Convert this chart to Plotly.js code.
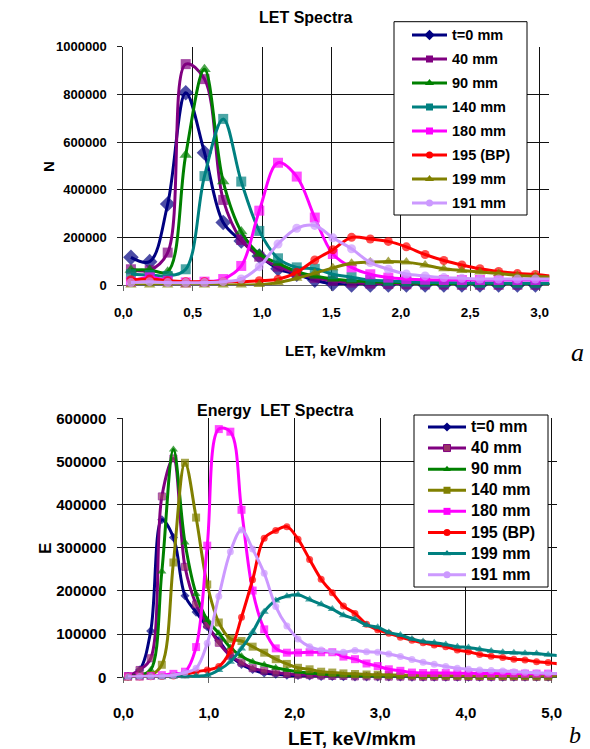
<!DOCTYPE html>
<html><head><meta charset="utf-8">
<script src="https://cdn.plot.ly/plotly-3.0.1.min.js"></script>
<style>html,body{margin:0;padding:0;background:#fff}#chart{width:590px;height:749px}</style>
</head><body><div id="chart"></div>
<script>
// ---------- data ----------
const seriesNames = ['t=0 mm','40 mm','90 mm','140 mm','180 mm','195 (BP)','199 mm','191 mm'];

// Chart a: LET spectra (N)
const xTop = [0.055,0.19,0.32,0.45,0.585,0.72,0.85,0.98,1.115,1.25,1.38,1.51,1.645,1.78,1.91,2.04,2.175,2.31,2.44,2.57,2.705,2.84,2.97,3.10];
const nT0   = [116000,98000,340000,807000,555000,262000,185000,122000,68000,45000,20000,5000,0,0,0,0,0,0,0,0,0,0,0,0];
const nT40  = [66000,62000,136000,927000,864000,357000,189000,119000,77000,50000,30000,18000,10000,6000,4000,3000,2000,2000,1000,1000,1000,1000,1000,1000];
const nT90  = [63000,63000,56000,546000,905000,434000,224000,130000,91000,56000,38000,25000,18000,14000,11000,9000,7000,6000,5000,4000,3000,3000,2000,2000];
const nT140 = [45000,42000,38000,66000,457000,697000,434000,227000,112000,74000,68000,45000,33000,21000,17000,14000,11000,10000,9000,8000,8000,7000,7000,7000];
const nT180 = [14000,32000,18000,11000,14000,25000,80000,312000,513000,455000,283000,130000,74000,45000,31000,25000,22000,21000,21000,21000,21000,21000,21000,21000];
const nT195 = [22000,25000,18000,14000,14000,14000,14000,18000,24000,53000,105000,148000,200000,193000,183000,160000,128000,103000,84000,68000,57000,48000,44000,36000];
const nT199 = [0,0,0,0,0,0,0,2000,10000,28000,50000,72000,91000,96000,99000,96000,84000,68000,61000,55000,48000,40000,36000,33000];
const nT191 = [10000,14000,10000,10000,10000,14000,25000,77000,172000,238000,250000,198000,152000,94000,66000,46000,38000,31000,28000,25000,25000,25000,25000,25000];

// Chart b: Energy LET spectra (E)
const xBot = [0.055,0.19,0.32,0.45,0.585,0.72,0.85,0.98,1.115,1.25,1.38,1.51,1.645,1.78,1.91,2.04,2.175,2.31,2.44,2.57,2.705,2.84,2.97,3.10,3.235,3.37,3.50,3.63,3.765,3.90,4.03,4.16,4.295,4.43,4.56,4.69,4.825,4.96,5.09];
const eT0   = [2000,17000,107000,365000,324000,189000,151000,117000,85000,50000,30000,18000,10000,7000,5000,4000,3000,2000,2000,1500,1000,1000,1000,1000,1000,500,500,500,500,500,500,500,500,500,500,500,500,500,500];
const eT40  = [3000,17000,44000,419000,507000,256000,169000,122000,80000,50000,34000,21000,15000,11000,8000,6000,5000,4000,3000,3000,2000,2000,2000,1500,1500,1500,1000,1000,1000,1000,1000,1000,1000,1000,1000,1000,1000,1000,1000];
const eT90  = [2000,5000,17000,245000,528000,312000,193000,133000,102000,69000,49000,36000,29000,22000,17000,13000,10000,8000,6000,5000,4000,3500,3000,3000,2500,2500,2000,2000,2000,2000,2000,1500,1500,1500,1500,1500,1500,1500,1500];
const eT140 = [1000,2000,5000,29000,266000,497000,370000,215000,127000,89000,84000,71000,57000,42000,31000,22000,18500,13000,11000,9000,7700,6500,6000,5500,5000,4500,4000,4000,3500,3500,3000,3000,3000,2500,2500,2500,2000,2000,2000];
const eT180 = [2000,2000,3000,5000,8000,13000,70000,305000,575000,569000,388000,201000,111000,67000,57000,57000,58000,58000,58000,48000,42000,32000,26000,18500,15000,11000,10000,10000,10000,9500,9500,9000,9000,9000,9000,8500,8500,8500,8500];
const eT195 = [1000,1000,1000,2000,3000,6000,13000,17000,25000,61000,139000,226000,322000,340000,349000,320000,273000,227000,196000,165000,148000,123000,110000,102000,93000,86000,80000,75000,71000,63000,59000,53000,49000,46000,42000,40000,36000,34000,31000];
const eT199 = [0,0,0,0,1000,2000,3000,5000,17000,36000,67000,105000,152000,178000,188000,191000,180000,169000,158000,144000,135000,121000,116000,104000,98000,89000,83000,80000,76000,71000,69000,65000,61000,58000,57000,56000,55000,52000,50000];
const eT191 = [1000,2000,2000,3000,5000,11000,21000,79000,188000,291000,341000,297000,241000,164000,119000,89000,71000,63000,60000,58000,62000,59000,58000,54000,48000,41000,35000,30000,25000,21000,18500,17000,15500,14700,13000,11600,10800,9300,8500];

const yTickTop = [0,200000,400000,600000,800000,1000000];
const yTickBot = [0,100000,200000,300000,400000,500000,600000];

// ---------- styling ----------
const W = 590, H = 749;
const px = v => v / W;
const py = v => 1 - v / H;
const SANS = "'Liberation Sans', Arial, sans-serif";
const SERIF = "'Liberation Serif', 'Times New Roman', serif";

const X_TOP_MAX = 3.07, X_BOT_MAX = 5.06;

const topStyle = [
  {c:'#000080', s:'diamond',     z:12, lz:8},
  {c:'#800080', s:'square',      z:10, lz:7},
  {c:'#008000', s:'triangle-up', z:11, lz:8},
  {c:'#008080', s:'square',      z:10, lz:7},
  {c:'#FF00FF', s:'square',      z:10, lz:7},
  {c:'#FF0000', s:'circle',      z:9,  lz:7},
  {c:'#808000', s:'triangle-up', z:10, lz:8},
  {c:'#CC99FF', s:'circle',      z:9,  lz:7}
];
const botStyle = [
  {c:'#000080', s:'diamond',     z:7, lz:7},
  {c:'#800080', s:'square',      z:7, lz:7, mc:'#993366'},
  {c:'#008000', s:'triangle-up', z:8, lz:7},
  {c:'#808000', s:'square',      z:8, lz:7},
  {c:'#FF00FF', s:'square',      z:8, lz:7},
  {c:'#FF0000', s:'circle',      z:7, lz:7},
  {c:'#008080', s:'triangle-up', z:8, lz:7},
  {c:'#CC99FF', s:'circle',      z:7, lz:7}
];

const topData = [nT0,nT40,nT90,nT140,nT180,nT195,nT199,nT191];
const botData = [eT0,eT40,eT90,eT140,eT180,eT195,eT199,eT191];

const traces = [];
function addSeries(xs, ys, i, st, xa, ya, legendId, grp, xmax, fsz) {
  const sizes = xs.map(v => v > xmax ? 0 : st.z);
  traces.push({
    type:'scatter', mode:'lines+markers', x:xs, y:ys, xaxis:xa, yaxis:ya,
    name:seriesNames[i], legendgroup:grp, showlegend:false, cliponaxis:false,
    line:{color:st.c, width:3, shape:'spline', smoothing:1},
    marker:{symbol:st.s, size:sizes, color:st.mc || st.c,
            line:{width: st.mc ? 1 : 0, color:st.c}},
    hoverinfo:'skip'
  });
  // legend entry (no data of its own)
  traces.push({
    type:'scatter', mode:'lines+markers', x:[null], y:[null], xaxis:xa, yaxis:ya,
    name:'<span style="font-size:'+fsz+'px">'+seriesNames[i]+'</span>',
    legend:legendId, legendgroup:grp, showlegend:true,
    line:{color:st.c, width:3},
    marker:{symbol:st.s, size:st.lz, color:st.mc || st.c, line:{width: st.mc ? 1 : 0, color:st.c}}
  });
}
topData.forEach((ys,i) => addSeries(xTop, ys, i, topStyle[i], 'x', 'y', 'legend', 'a'+i, X_TOP_MAX, 14.5));
botData.forEach((ys,i) => addSeries(xBot, ys, i, botStyle[i], 'x2', 'y2', 'legend2', 'b'+i, X_BOT_MAX, 16));

function xAxis(dom, range, dtick, anchor, fsz, standoff) {
  return {domain:dom, range:range, anchor:anchor, tick0:0, dtick:dtick, tickformat:'.1f',
    showgrid:true, gridcolor:'#111', gridwidth:1, zeroline:false,
    showline:true, linecolor:'#666', linewidth:1, ticks:'outside', ticklen:5, tickcolor:'#666',
    layer:'below traces', ticklabelstandoff:standoff,
    tickfont:{family:SANS, size:fsz, color:'#000', weight:700}, fixedrange:true};
}
function yAxis(dom, vals, anchor, fsz) {
  return {domain:dom, range:[0, vals[vals.length-1]], anchor:anchor, tickmode:'array', tickvals:vals,
    ticktext: vals.map(v => String(v)),
    showgrid:true, gridcolor:'#111', gridwidth:1, zeroline:false,
    showline:true, linecolor:'#222', linewidth:1, ticks:'outside', ticklen:5, tickcolor:'#222',
    layer:'below traces', ticklabelstandoff:8,
    tickfont:{family:SANS, size:fsz, color:'#000', weight:700}, fixedrange:true};
}

const layout = {
  width:W, height:H, margin:{l:0,r:0,t:0,b:0}, autosize:false,
  paper_bgcolor:'#fff', plot_bgcolor:'#fff', separators:',.', showlegend:true,
  xaxis:  xAxis([px(123.3), px(549.3)], [0, X_TOP_MAX], 0.5, 'y', 13.5, 10),
  yaxis:  yAxis([py(285), py(46.7)], yTickTop, 'x', 13),
  xaxis2: xAxis([px(123.3), px(556.7)], [0, X_BOT_MAX], 1, 'y2', 15, 17),
  yaxis2: yAxis([py(677.3), py(418.3)], yTickBot, 'x2', 15),
  legend: {x:px(407), xanchor:'left', y:py(19.4), yanchor:'top', bgcolor:'rgba(0,0,0,0)', borderwidth:0,
           font:{family:SANS, size:14, color:'#000', weight:700}, itemwidth:35,
           traceorder:'grouped', tracegroupgap:2.8, itemclick:false, itemdoubleclick:false},
  legend2:{x:px(423), xanchor:'left', y:py(412), yanchor:'top', bgcolor:'rgba(0,0,0,0)', borderwidth:0,
           font:{family:SANS, size:13, color:'#000', weight:700}, itemwidth:38,
           traceorder:'grouped', tracegroupgap:1.2, itemclick:false, itemdoubleclick:false},
  shapes: [
    {type:'rect', xref:'paper', yref:'paper', x0:px(394), x1:px(527), y0:py(215), y1:py(21.7),
     line:{color:'#000', width:1}, fillcolor:'#fff', layer:'above'},
    {type:'rect', xref:'paper', yref:'paper', x0:px(414), x1:px(548), y0:py(587), y1:py(415),
     line:{color:'#000', width:1}, fillcolor:'#fff', layer:'above'}
  ],
  annotations: [
    {text:'LET Spectra', xref:'paper', yref:'paper', x:px(305), y:py(17), xanchor:'center', yanchor:'middle', showarrow:false,
     font:{family:SANS, size:16, color:'#000', weight:700}},
    {text:'N', xref:'paper', yref:'paper', x:px(48), y:py(167), xanchor:'center', yanchor:'middle', showarrow:false, textangle:-90,
     font:{family:SANS, size:15, color:'#000', weight:700}},
    {text:'LET, keV/mkm', xref:'paper', yref:'paper', x:px(335), y:py(350), xanchor:'center', yanchor:'middle', showarrow:false,
     font:{family:SANS, size:15, color:'#000', weight:700}},
    {text:'a', xref:'paper', yref:'paper', x:px(577), y:py(352), xanchor:'center', yanchor:'middle', showarrow:false,
     font:{family:SERIF, size:26, color:'#000', style:'italic'}},
    {text:'Energy\u00a0 LET Spectra', xref:'paper', yref:'paper', x:px(275), y:py(410), xanchor:'center', yanchor:'middle', showarrow:false,
     font:{family:SANS, size:16, color:'#000', weight:700}},
    {text:'E', xref:'paper', yref:'paper', x:px(45), y:py(549), xanchor:'center', yanchor:'middle', showarrow:false, textangle:-90,
     font:{family:SANS, size:17, color:'#000', weight:700}},
    {text:'LET, keV/mkm', xref:'paper', yref:'paper', x:px(352), y:py(738), xanchor:'center', yanchor:'middle', showarrow:false,
     font:{family:SANS, size:19, color:'#000', weight:700}},
    {text:'b', xref:'paper', yref:'paper', x:px(575), y:py(735), xanchor:'center', yanchor:'middle', showarrow:false,
     font:{family:SERIF, size:24, color:'#000', style:'italic'}}
  ]
};

Plotly.newPlot('chart', traces, layout, {staticPlot:true, displayModeBar:false});
</script></body></html>
